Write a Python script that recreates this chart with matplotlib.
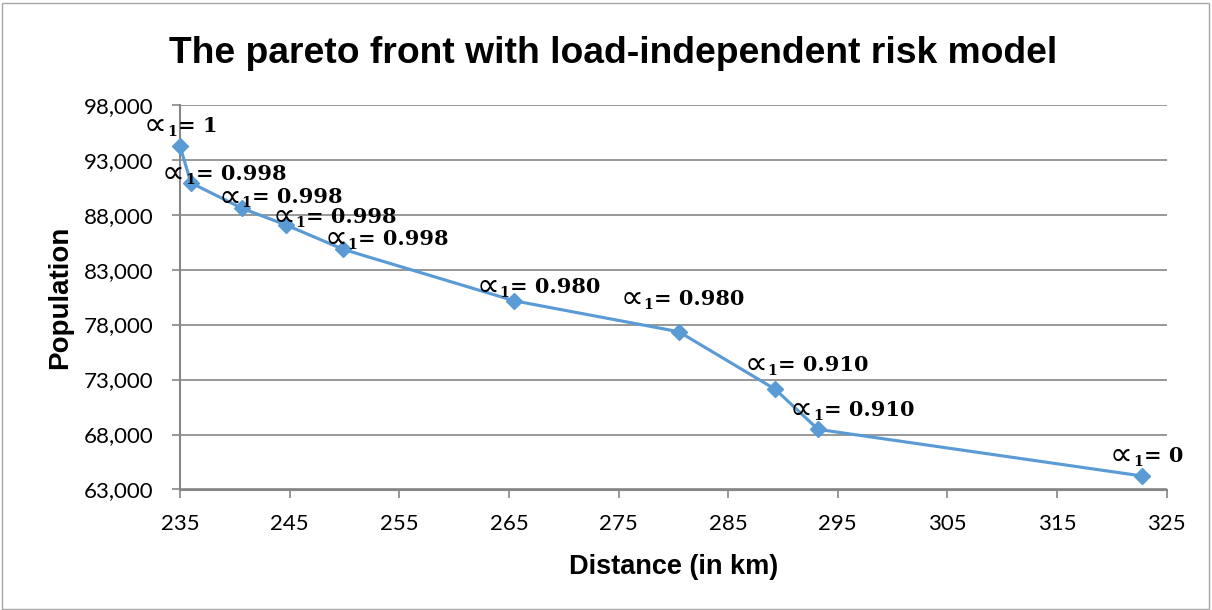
import matplotlib
matplotlib.use("Agg")
import matplotlib.pyplot as plt
from matplotlib.patches import Rectangle

plt.rcParams['font.family'] = ['Liberation Sans', 'DejaVu Sans']

distance = [235.0, 236.0, 240.7, 244.7, 249.9, 265.5, 280.5, 289.3, 293.2, 322.75]
population = [94230, 90890, 88560, 87050, 84840, 80160, 77350, 72110, 68470, 64230]
alpha_labels = ['1', '0.998', '0.998', '0.998', '0.998', '0.980', '0.980', '0.910', '0.910', '0']
x_ticks = [235, 245, 255, 265, 275, 285, 295, 305, 315, 325]
y_ticks = [63000, 68000, 73000, 78000, 83000, 88000, 93000, 98000]

# label offsets in pixels: left edge and baseline relative to each point (dy up)
offsets = [(-36, 14), (-29, 3), (-24, 5), (-14, 2), (-19, 4), (-38, 8), (-58, 27), (-31, 18), (-28, 13), (-32, 14)]

W, H = 1212, 610
fig = plt.figure(figsize=(W / 100, H / 100), dpi=100)
fig.patches.append(Rectangle((2.5 / W, 1.5 / H), 1 - 6 / W, 1 - 4 / H, transform=fig.transFigure,
                             fill=False, edgecolor='#a6a6a6', linewidth=1.0))
left, right, top, bottom = 180.0, 1166.7, 104.7, 489.5
ax = fig.add_axes([left / W, 1 - bottom / H, (right - left) / W, (bottom - top) / H])

ax.plot(distance, population, color='#5B9BD5', linewidth=2.25, marker='D',
        markersize=8.5, markerfacecolor='#5B9BD5', markeredgecolor='#5B9BD5', zorder=3,
        clip_on=False)

ax.set_xlim(235, 325)
ax.set_ylim(63000, 98000)

renderer = fig.canvas.get_renderer()
for x, y, lab, (dx, dy) in zip(distance, population, alpha_labels, offsets):
    kw = dict(textcoords='offset pixels', ha='left', va='baseline', color='black',
              zorder=4, annotation_clip=False)
    t1 = ax.annotate('\u221d', (x, y), xytext=(dx, dy - 3), fontsize=23, family='DejaVu Sans', **kw)
    w1 = t1.get_window_extent(renderer).width
    t2 = ax.annotate('1', (x, y), xytext=(dx + w1, dy - 4), fontsize=10,
                     family='DejaVu Serif', fontweight='bold', **kw)
    w2 = t2.get_window_extent(renderer).width
    ax.annotate('= ' + lab, (x, y), xytext=(dx + w1 + w2 + 1, dy), fontsize=15,
                family='DejaVu Serif', fontweight='bold', **kw)

ax.set_xticks(x_ticks)
ax.set_yticks(y_ticks)
ax.set_xticklabels([str(v) for v in x_ticks], family='Lato')
ax.set_yticklabels([f'{v:,}' for v in y_ticks], family='Lato')
ax.tick_params(axis='both', labelsize=16, colors='black')
ax.tick_params(axis='x', direction='out', length=6, width=1.2, color='#868686', pad=12)
ax.tick_params(axis='y', direction='out', length=6, width=1.2, color='#868686', pad=13)

ax.grid(axis='y', color='#868686', linewidth=1.2)
ax.set_axisbelow(True)
for s in ['top', 'right']:
    ax.spines[s].set_visible(False)
for s in ['left', 'bottom']:
    ax.spines[s].set_color('#868686')
    ax.spines[s].set_linewidth(1.5)

fig.text(673.5 / W, 1 - 574 / H, 'Distance (in km)', ha='center', va='baseline',
         fontsize=19.5, fontweight='bold')
fig.text(67 / W, 1 - 297.5 / H, 'Population', ha='center', va='baseline', rotation=90,
         rotation_mode='anchor', fontsize=20, fontweight='bold')
fig.text(613.5 / W, 1 - 63 / H, 'The pareto front with load-independent risk model',
         ha='center', va='baseline', fontsize=26.8, fontweight='bold')

fig.savefig('out.png', dpi=100)
